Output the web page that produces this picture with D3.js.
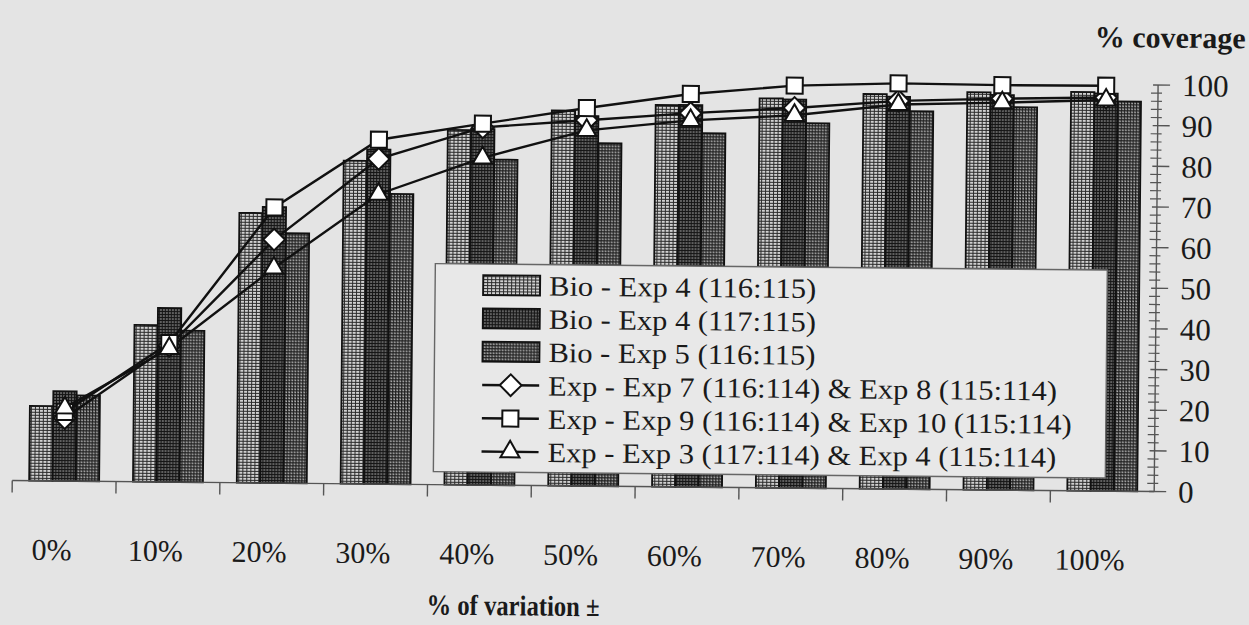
<!DOCTYPE html>
<html>
<head>
<meta charset="utf-8">
<script src="https://cdn.jsdelivr.net/npm/d3@7"></script>
<style>
  html, body { margin: 0; padding: 0; background: #e4e4e4; }
  svg { display: block; }
  text { font-family: "Liberation Serif", "Times New Roman", serif; fill: #1a1a1a; }
</style>
</head>
<body>
<svg id="chart" width="1249" height="625"></svg>
<script>
// Coverage (%) per allowed variation bin
const categories = ["0%", "10%", "20%", "30%", "40%", "50%", "60%", "70%", "80%", "90%", "100%"];

// Column series
const bioExp4_116 = [18.4, 38.6, 66.4, 79.5, 87.3, 92.3, 93.9, 95.8, 97.1, 97.8, 98.1];
const bioExp4_117 = [22.1, 42.8, 67.9, 82.3, 87.6, 91.0, 94.0, 95.6, 96.5, 97.2, 97.8];
const bioExp5_116 = [21.1, 37.3, 61.5, 71.4, 80.1, 84.4, 87.1, 89.8, 93.0, 94.2, 95.9];

// Line series
const exp7_8  = [15.5, 33.5, 59.9, 80.0, 88.0, 90.0, 92.0, 93.5, 95.5, 96.3, 96.8];
const exp9_10 = [17.0, 34.2, 67.8, 84.7, 88.9, 93.0, 96.7, 99.0, 99.8, 99.6, 99.7];
const exp3_4  = [18.0, 32.9, 52.9, 71.3, 80.5, 87.5, 90.2, 91.7, 94.6, 95.3, 96.2];

const yTicks = [0, 10, 20, 30, 40, 50, 60, 70, 80, 90, 100];

const barSeries = [
  { name: "Bio - Exp 4 (116:115)", values: bioExp4_116, fill: "url(#pat1)" },
  { name: "Bio - Exp 4 (117:115)", values: bioExp4_117, fill: "url(#pat2)" },
  { name: "Bio - Exp 5 (116:115)", values: bioExp5_116, fill: "url(#pat3)" }
];
const lineSeries = [
  { name: "Exp - Exp 7 (116:114) & Exp 8 (115:114)",  values: exp7_8,  symbol: d3.symbolDiamond2, size: 300 },
  { name: "Exp - Exp 9 (116:114) & Exp 10 (115:114)", values: exp9_10, symbol: d3.symbolSquare2,  size: 330 },
  { name: "Exp - Exp 3 (117:114) & Exp 4 (115:114)",  values: exp3_4,  symbol: d3.symbolTriangle2, size: 260 }
];

const svg = d3.select("#chart");
svg.append("rect").attr("width", 1249).attr("height", 625).attr("fill", "#e4e4e4");

// Hatched fills for the columns
const defs = svg.append("defs");
function gridPattern(id, w, h, bg, line, extra) {
  const p = defs.append("pattern").attr("id", id)
    .attr("patternUnits", "userSpaceOnUse").attr("width", w).attr("height", h);
  p.append("rect").attr("width", w).attr("height", h).attr("fill", bg);
  p.append("rect").attr("width", 1).attr("height", h).attr("fill", line);
  p.append("rect").attr("width", w).attr("height", 1).attr("fill", line);
  if (extra) extra(p);
}
gridPattern("pat1", 4, 3, "#d0d0d0", "#2a2a2a");
gridPattern("pat2", 3, 3, "#606060", "#151515");
gridPattern("pat3", 3, 3, "#7e7e7e", "#1e1e1e", p =>
  p.append("rect").attr("x", 2).attr("y", 2).attr("width", 1).attr("height", 1).attr("fill", "#bbb"));

// Whole drawing sits with a slight clockwise tilt
const g = svg.append("g").attr("transform", "rotate(0.55 580 300)");

const x0 = 14, x1 = 1156, yBase = 486, yTop = 79.5;
const x = d3.scaleBand().domain(categories).range([x0, x1]).paddingInner(0.326).paddingOuter(0.163);
const xs = d3.scaleBand().domain(d3.range(barSeries.length)).range([0, x.bandwidth()]);
const y = d3.scaleLinear().domain([0, 100]).range([yBase, yTop]);
const cx = c => x(c) + x.bandwidth() / 2;

// Columns
barSeries.forEach((s, si) => {
  g.append("g").selectAll("rect").data(categories).join("rect")
    .attr("x", c => x(c) + xs(si))
    .attr("y", (c, i) => y(s.values[i]))
    .attr("width", xs.bandwidth())
    .attr("height", (c, i) => y(0) - y(s.values[i]))
    .attr("fill", s.fill)
    .attr("stroke", "#111").attr("stroke-width", 1.8);
});

// Category axis
const step = x.step();
g.append("line").attr("x1", x0).attr("x2", x1).attr("y1", yBase).attr("y2", yBase)
  .attr("stroke", "#555").attr("stroke-width", 1.4);
g.append("g").selectAll("line").data(d3.range(categories.length)).join("line")
  .attr("x1", i => x0 + i * step).attr("x2", i => x0 + i * step)
  .attr("y1", yBase).attr("y2", yBase + 12)
  .attr("stroke", "#555").attr("stroke-width", 1.4);
g.append("g").selectAll("text").data(categories).join("text")
  .attr("x", c => cx(c) - 12).attr("y", 565)
  .attr("text-anchor", "middle").attr("font-size", 30)
  .text(c => c);

// Value axis on the right
g.append("line").attr("x1", x1).attr("x2", x1).attr("y1", y(0)).attr("y2", y(100))
  .attr("stroke", "#555").attr("stroke-width", 1.4);
const minor = d3.range(0, 101, 2).filter(v => v % 10 !== 0);
g.append("g").selectAll("line").data(minor).join("line")
  .attr("x1", x1 - 7).attr("x2", x1 + 4).attr("y1", v => y(v)).attr("y2", v => y(v))
  .attr("stroke", "#555").attr("stroke-width", 1.2);
g.append("g").selectAll("line").data(yTicks).join("line")
  .attr("x1", x1 - 5).attr("x2", x1 + 12).attr("y1", v => y(v)).attr("y2", v => y(v))
  .attr("stroke", "#555").attr("stroke-width", 1.4);
g.append("g").selectAll("text").data(yTicks).join("text")
  .attr("x", 1180).attr("y", v => y(v)).attr("dy", "0.35em")
  .attr("font-size", 31).text(v => v);

// Lines with markers
const line = d3.line().x((d, i) => cx(categories[i])).y(d => y(d));
lineSeries.forEach(s => {
  g.append("path").datum(s.values).attr("d", line)
    .attr("fill", "none").attr("stroke", "#111").attr("stroke-width", 2.4);
});
lineSeries.forEach(s => {
  g.append("g").selectAll("path").data(s.values).join("path")
    .attr("transform", (d, i) => `translate(${cx(categories[i])},${y(d)})`)
    .attr("d", d3.symbol().type(s.symbol).size(s.size))
    .attr("fill", "#fff").attr("stroke", "#111").attr("stroke-width", 2);
});

// Legend
const lg = g.append("g").attr("transform", "translate(435,265)");
lg.append("rect").attr("width", 672).attr("height", 208)
  .attr("fill", "#e8e8e8").attr("stroke", "#666").attr("stroke-width", 1.4);
const rowH = 33.3, row0 = 21;
function legendText(ry, label) {
  lg.append("text").attr("transform", `translate(114,${ry}) scale(1.09,1)`)
    .attr("dy", "0.35em").attr("font-size", 28).text(label);
}
barSeries.forEach((s, i) => {
  const ry = row0 + i * rowH;
  lg.append("rect").attr("x", 48).attr("y", ry - 10).attr("width", 57).attr("height", 20)
    .attr("fill", s.fill).attr("stroke", "#111").attr("stroke-width", 1.8);
  legendText(ry, s.name);
});
lineSeries.forEach((s, j) => {
  const ry = row0 + (j + 3) * rowH;
  lg.append("line").attr("x1", 48).attr("x2", 105).attr("y1", ry).attr("y2", ry)
    .attr("stroke", "#111").attr("stroke-width", 2.4);
  lg.append("path").attr("transform", `translate(76.5,${ry})`)
    .attr("d", d3.symbol().type(s.symbol).size(s.size))
    .attr("fill", "#fff").attr("stroke", "#111").attr("stroke-width", 2);
  legendText(ry, s.name);
});

// Axis titles
g.append("text").attr("x", 1243).attr("y", 42).attr("text-anchor", "end")
  .attr("font-size", 30).attr("font-weight", "bold").text("% coverage");
g.append("text").attr("transform", "translate(516,616) scale(0.85,1)")
  .attr("text-anchor", "middle")
  .attr("font-size", 29).attr("font-weight", "bold").text("% of variation ±");
</script>
</body>
</html>
